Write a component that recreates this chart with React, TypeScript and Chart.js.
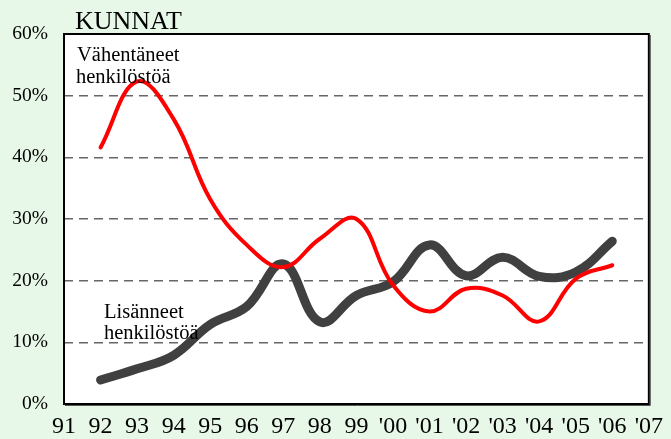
import React, { useEffect, useRef } from "react";
import { Chart, registerables } from "chart.js";

Chart.register(...registerables);

const yearLabels = ["91", "92", "93", "94", "95", "96", "97", "98", "99", "'00", "'01", "'02", "'03", "'04", "'05", "'06", "'07"];
const vahentaneet = [null, 41.6, 52.3, 46.2, 33.2, 25.8, 22.2, 26.8, 30.0, 19.3, 15.0, 18.7, 17.6, 13.4, 20.3, 22.5, null];
const lisanneet = [null, 3.9, 5.7, 7.9, 12.9, 15.8, 22.7, 13.3, 17.6, 19.8, 25.8, 20.8, 23.8, 20.7, 21.4, 26.4, null];
const yTicks = [0, 10, 20, 30, 40, 50, 60];
const titleText = "KUNNAT";
const redLabel = ["Vähentäneet", "henkilöstöä"];
const blackLabel = ["Lisänneet", "henkilöstöä"];

const SERIF = "'Liberation Serif', 'Times New Roman', serif";

const decorPlugin = {
  id: "decor",
  beforeDraw(chart: any) {
    const { ctx, chartArea: a, width, height } = chart;
    ctx.save();
    ctx.fillStyle = "#E8F8E8";
    ctx.fillRect(0, 0, width, height);
    ctx.fillStyle = "#FFFFFF";
    ctx.fillRect(a.left, a.top, a.right - a.left, a.bottom - a.top);
    ctx.restore();
  },
  afterDatasetsDraw(chart: any) {
    const { ctx, chartArea: a } = chart;
    ctx.save();
    ctx.strokeStyle = "#000000";
    ctx.lineWidth = 2;
    ctx.strokeRect(a.left, a.top, a.right - a.left, a.bottom - a.top);
    ctx.strokeStyle = "#555555";
    ctx.lineWidth = 1;
    ctx.beginPath();
    ctx.moveTo(a.right + 1.5, a.top + 1);
    ctx.lineTo(a.right + 1.5, a.bottom + 1.5);
    ctx.lineTo(a.left + 1, a.bottom + 1.5);
    ctx.stroke();
    ctx.fillStyle = "#000000";
    ctx.textBaseline = "alphabetic";
    ctx.textAlign = "left";
    ctx.font = `26px ${SERIF}`;
    ctx.fillText(titleText, a.left + 11, a.top - 5);
    ctx.font = `20.5px ${SERIF}`;
    ctx.fillText(redLabel[0], a.left + 13, a.top + 27);
    ctx.fillText(redLabel[1], a.left + 12, a.top + 49);
    ctx.fillText(blackLabel[0], a.left + 40, a.top + 284);
    ctx.fillText(blackLabel[1], a.left + 40, a.top + 305);
    ctx.restore();
  },
};

export default function App() {
  const ref = useRef<HTMLCanvasElement>(null);
  useEffect(() => {
    if (!ref.current) return;
    const chart = new Chart(ref.current, {
      type: "line",
      data: {
        labels: yearLabels,
        datasets: [
          {
            label: redLabel.join(" "),
            data: vahentaneet,
            borderColor: "#FF0000",
            borderWidth: 4,
            pointRadius: 0,
            tension: 0.4,
            fill: false,
            borderCapStyle: "round",
            order: 0,
          },
          {
            label: blackLabel.join(" "),
            data: lisanneet,
            borderColor: "#404040",
            borderWidth: 9,
            pointRadius: 0,
            tension: 0.4,
            fill: false,
            borderCapStyle: "round",
            order: 1,
          },
        ],
      },
      options: {
        responsive: false,
        animation: false,
        layout: { padding: { top: 34, right: 17, left: 0, bottom: 0 } },
        plugins: {
          legend: { display: false },
          title: { display: false },
          tooltip: { enabled: false },
        },
        scales: {
          x: {
            offset: false,
            grid: { display: false, drawTicks: false },
            border: { display: false },
            ticks: {
              color: "#000000",
              font: { family: SERIF, size: 24 },
              padding: 8,
              maxRotation: 0,
              autoSkip: false,
            },
            afterFit(scale: any) {
              scale.height = 35;
            },
          },
          y: {
            min: 0,
            max: 60,
            afterBuildTicks(scale: any) {
              scale.ticks = yTicks.map((v) => ({ value: v }));
            },
            grid: {
              drawTicks: false,
              color: (c: any) => (c.tick && (c.tick.value === 0 || c.tick.value === 60) ? "rgba(0,0,0,0)" : "#666666"),
              lineWidth: 1.5,
            },
            border: { display: false, dash: [9, 6] },
            ticks: {
              color: "#000000",
              font: { family: SERIF, size: 19.5 },
              padding: 16,
              callback: (v: any) => `${v}%`,
            },
            afterFit(scale: any) {
              scale.width = 64;
            },
          },
        },
      } as any,
      plugins: [decorPlugin],
    });
    return () => chart.destroy();
  }, []);
  return (
    <div style={{ position: "fixed", left: 0, top: 0, width: 671, height: 439, background: "#E8F8E8" }}>
      <canvas ref={ref} width={671} height={439} style={{ display: "block" }} />
    </div>
  );
}
